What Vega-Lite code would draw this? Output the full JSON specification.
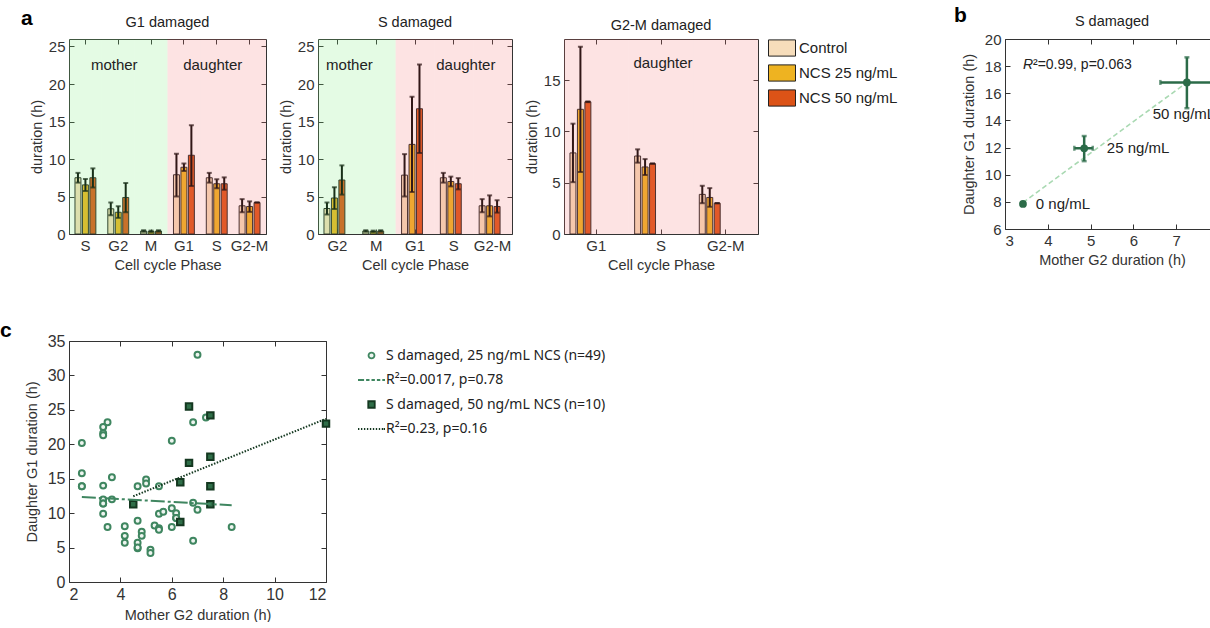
{
  "$schema": "https://vega.github.io/schema/vega-lite/v6.json",
  "background": "white",
  "padding": {"left": 0, "top": 5, "right": 0, "bottom": 0},
  "config": {
    "font": "Liberation Sans",
    "view": {"stroke": "#333", "strokeWidth": 1},
    "axis": {"labelFont": "Liberation Sans", "labelFontSize": 15, "labelColor": "#333", "titleFont": "Liberation Sans", "titleFontSize": 14.5, "titleFontWeight": "normal", "titleColor": "#333", "tickColor": "#333", "domain": false, "grid": false, "tickSize": -5, "labelPadding": 9, "titlePadding": 8},
    "title": {"font": "Liberation Sans", "fontSize": 14.5, "fontWeight": "normal", "color": "#222"}
  },
  "datasets": {
    "bars": [
      {"panel": "G1", "phase": "mS", "treatment": "Control", "mean": 7.5, "lo": 6.85, "hi": 8.15},
      {"panel": "G1", "phase": "mS", "treatment": "NCS 25 ng/mL", "mean": 6.55, "lo": 5.75, "hi": 7.35},
      {"panel": "G1", "phase": "mS", "treatment": "NCS 50 ng/mL", "mean": 7.5, "lo": 6.2, "hi": 8.75},
      {"panel": "G1", "phase": "mG2", "treatment": "Control", "mean": 3.36, "lo": 2.5, "hi": 4.2},
      {"panel": "G1", "phase": "mG2", "treatment": "NCS 25 ng/mL", "mean": 2.9, "lo": 2.15, "hi": 3.7},
      {"panel": "G1", "phase": "mG2", "treatment": "NCS 50 ng/mL", "mean": 4.87, "lo": 2.9, "hi": 6.8},
      {"panel": "G1", "phase": "mM", "treatment": "Control", "mean": 0.4, "lo": 0.3, "hi": 0.5},
      {"panel": "G1", "phase": "mM", "treatment": "NCS 25 ng/mL", "mean": 0.35, "lo": 0.25, "hi": 0.45},
      {"panel": "G1", "phase": "mM", "treatment": "NCS 50 ng/mL", "mean": 0.4, "lo": 0.3, "hi": 0.5},
      {"panel": "G1", "phase": "dG1", "treatment": "Control", "mean": 7.9, "lo": 5.0, "hi": 10.7},
      {"panel": "G1", "phase": "dG1", "treatment": "NCS 25 ng/mL", "mean": 8.9, "lo": 8.4, "hi": 9.4},
      {"panel": "G1", "phase": "dG1", "treatment": "NCS 50 ng/mL", "mean": 10.5, "lo": 6.4, "hi": 14.5},
      {"panel": "G1", "phase": "dS", "treatment": "Control", "mean": 7.5, "lo": 6.85, "hi": 8.15},
      {"panel": "G1", "phase": "dS", "treatment": "NCS 25 ng/mL", "mean": 6.7, "lo": 6.1, "hi": 7.3},
      {"panel": "G1", "phase": "dS", "treatment": "NCS 50 ng/mL", "mean": 6.7, "lo": 5.9, "hi": 7.55},
      {"panel": "G1", "phase": "dG2-M", "treatment": "Control", "mean": 3.76, "lo": 2.9, "hi": 4.65},
      {"panel": "G1", "phase": "dG2-M", "treatment": "NCS 25 ng/mL", "mean": 3.67, "lo": 2.95, "hi": 4.35},
      {"panel": "G1", "phase": "dG2-M", "treatment": "NCS 50 ng/mL", "mean": 4.2, "lo": 4.2, "hi": 4.2},
      {"panel": "S", "phase": "mG2", "treatment": "Control", "mean": 3.4, "lo": 2.6, "hi": 4.2},
      {"panel": "S", "phase": "mG2", "treatment": "NCS 25 ng/mL", "mean": 4.8, "lo": 3.35, "hi": 6.25},
      {"panel": "S", "phase": "mG2", "treatment": "NCS 50 ng/mL", "mean": 7.2, "lo": 5.25, "hi": 9.15},
      {"panel": "S", "phase": "mM", "treatment": "Control", "mean": 0.4, "lo": 0.3, "hi": 0.5},
      {"panel": "S", "phase": "mM", "treatment": "NCS 25 ng/mL", "mean": 0.35, "lo": 0.25, "hi": 0.45},
      {"panel": "S", "phase": "mM", "treatment": "NCS 50 ng/mL", "mean": 0.4, "lo": 0.3, "hi": 0.5},
      {"panel": "S", "phase": "dG1", "treatment": "Control", "mean": 7.85, "lo": 5.0, "hi": 10.65},
      {"panel": "S", "phase": "dG1", "treatment": "NCS 25 ng/mL", "mean": 11.95, "lo": 5.6, "hi": 18.3},
      {"panel": "S", "phase": "dG1", "treatment": "NCS 50 ng/mL", "mean": 16.7, "lo": 10.8, "hi": 22.6},
      {"panel": "S", "phase": "dS", "treatment": "Control", "mean": 7.5, "lo": 6.85, "hi": 8.15},
      {"panel": "S", "phase": "dS", "treatment": "NCS 25 ng/mL", "mean": 7.0, "lo": 6.35, "hi": 7.65},
      {"panel": "S", "phase": "dS", "treatment": "NCS 50 ng/mL", "mean": 6.7, "lo": 5.95, "hi": 7.45},
      {"panel": "S", "phase": "dG2-M", "treatment": "Control", "mean": 3.76, "lo": 2.9, "hi": 4.65},
      {"panel": "S", "phase": "dG2-M", "treatment": "NCS 25 ng/mL", "mean": 3.76, "lo": 2.35, "hi": 5.15},
      {"panel": "S", "phase": "dG2-M", "treatment": "NCS 50 ng/mL", "mean": 3.67, "lo": 2.85, "hi": 4.5},
      {"panel": "G2M", "phase": "dG1", "treatment": "Control", "mean": 7.9, "lo": 5.05, "hi": 10.75},
      {"panel": "G2M", "phase": "dG1", "treatment": "NCS 25 ng/mL", "mean": 12.15, "lo": 6.05, "hi": 18.25},
      {"panel": "G2M", "phase": "dG1", "treatment": "NCS 50 ng/mL", "mean": 12.88, "lo": 12.85, "hi": 12.92},
      {"panel": "G2M", "phase": "dS", "treatment": "Control", "mean": 7.6, "lo": 6.95, "hi": 8.25},
      {"panel": "G2M", "phase": "dS", "treatment": "NCS 25 ng/mL", "mean": 6.53, "lo": 5.75, "hi": 7.3},
      {"panel": "G2M", "phase": "dS", "treatment": "NCS 50 ng/mL", "mean": 6.86, "lo": 6.84, "hi": 6.88},
      {"panel": "G2M", "phase": "dG2-M", "treatment": "Control", "mean": 3.86, "lo": 3.0, "hi": 4.7},
      {"panel": "G2M", "phase": "dG2-M", "treatment": "NCS 25 ng/mL", "mean": 3.56, "lo": 2.65, "hi": 4.47},
      {"panel": "G2M", "phase": "dG2-M", "treatment": "NCS 50 ng/mL", "mean": 3.0, "lo": 2.98, "hi": 3.02}
    ],
    "bg": [
      {"panel": "G1", "phase": "mS", "region": "mother"},
      {"panel": "G1", "phase": "mG2", "region": "mother"},
      {"panel": "G1", "phase": "mM", "region": "mother"},
      {"panel": "G1", "phase": "dG1", "region": "daughter"},
      {"panel": "G1", "phase": "dS", "region": "daughter"},
      {"panel": "G1", "phase": "dG2-M", "region": "daughter"},
      {"panel": "S", "phase": "mG2", "region": "mother"},
      {"panel": "S", "phase": "mM", "region": "mother"},
      {"panel": "S", "phase": "dG1", "region": "daughter"},
      {"panel": "S", "phase": "dS", "region": "daughter"},
      {"panel": "S", "phase": "dG2-M", "region": "daughter"},
      {"panel": "G2M", "phase": "dG1", "region": "daughter"},
      {"panel": "G2M", "phase": "dS", "region": "daughter"},
      {"panel": "G2M", "phase": "dG2-M", "region": "daughter"}
    ],
    "regionLabels": [
      {"panel": "G1", "phase": "mG2", "label": "mother"},
      {"panel": "G1", "phase": "dS", "label": "daughter"},
      {"panel": "S", "phase": "mG2", "label": "mother"},
      {"panel": "S", "phase": "dS", "label": "daughter"},
      {"panel": "G2M", "phase": "dS", "label": "daughter"}
    ],
    "bfit": [{"x": 3.42, "y": 7.95}, {"x": 7.25, "y": 16.8}],
    "bpts": [
      {"dose": "0 ng/mL", "x": 3.42, "y": 7.85, "xlo": 3.42, "xhi": 3.42, "ylo": 7.85, "yhi": 7.85},
      {"dose": "25 ng/mL", "x": 4.85, "y": 11.95, "xlo": 4.62, "xhi": 5.05, "ylo": 11.0, "yhi": 12.85},
      {"dose": "50 ng/mL", "x": 7.25, "y": 16.8, "xlo": 6.63, "xhi": 7.84, "ylo": 14.9, "yhi": 18.65}
    ],
    "blabels": [
      {"label": "0 ng/mL", "x": 3.72, "y": 7.85},
      {"label": "25 ng/mL", "x": 5.38, "y": 11.95},
      {"label": "50 ng/mL", "x": 6.45, "y": 14.45}
    ],
    "bstat": [
      {"part": "R", "x": 3.42, "y": 18.1},
      {"part": "²=0.99, p=0.063", "x": 3.42, "y": 18.1}
    ],
    "cpts": [
      {"series": "S damaged, 25 ng/mL NCS (n=49)", "x": 2.5, "y": 20.2},
      {"series": "S damaged, 25 ng/mL NCS (n=49)", "x": 2.5, "y": 15.8},
      {"series": "S damaged, 25 ng/mL NCS (n=49)", "x": 2.5, "y": 13.9},
      {"series": "S damaged, 25 ng/mL NCS (n=49)", "x": 3.33, "y": 22.5},
      {"series": "S damaged, 25 ng/mL NCS (n=49)", "x": 3.33, "y": 21.6},
      {"series": "S damaged, 25 ng/mL NCS (n=49)", "x": 3.33, "y": 21.3},
      {"series": "S damaged, 25 ng/mL NCS (n=49)", "x": 3.5, "y": 23.2},
      {"series": "S damaged, 25 ng/mL NCS (n=49)", "x": 3.33, "y": 14.0},
      {"series": "S damaged, 25 ng/mL NCS (n=49)", "x": 3.33, "y": 12.0},
      {"series": "S damaged, 25 ng/mL NCS (n=49)", "x": 3.33, "y": 11.4},
      {"series": "S damaged, 25 ng/mL NCS (n=49)", "x": 3.33, "y": 11.4},
      {"series": "S damaged, 25 ng/mL NCS (n=49)", "x": 3.33, "y": 9.9},
      {"series": "S damaged, 25 ng/mL NCS (n=49)", "x": 3.5, "y": 8.0},
      {"series": "S damaged, 25 ng/mL NCS (n=49)", "x": 3.67, "y": 15.2},
      {"series": "S damaged, 25 ng/mL NCS (n=49)", "x": 3.67, "y": 12.0},
      {"series": "S damaged, 25 ng/mL NCS (n=49)", "x": 4.17, "y": 8.1},
      {"series": "S damaged, 25 ng/mL NCS (n=49)", "x": 4.17, "y": 6.7},
      {"series": "S damaged, 25 ng/mL NCS (n=49)", "x": 4.17, "y": 5.7},
      {"series": "S damaged, 25 ng/mL NCS (n=49)", "x": 4.67, "y": 13.9},
      {"series": "S damaged, 25 ng/mL NCS (n=49)", "x": 4.67, "y": 8.9},
      {"series": "S damaged, 25 ng/mL NCS (n=49)", "x": 4.67, "y": 5.7},
      {"series": "S damaged, 25 ng/mL NCS (n=49)", "x": 4.67, "y": 4.9},
      {"series": "S damaged, 25 ng/mL NCS (n=49)", "x": 4.67, "y": 5.0},
      {"series": "S damaged, 25 ng/mL NCS (n=49)", "x": 4.83, "y": 7.3},
      {"series": "S damaged, 25 ng/mL NCS (n=49)", "x": 4.83, "y": 6.7},
      {"series": "S damaged, 25 ng/mL NCS (n=49)", "x": 5.0, "y": 14.9},
      {"series": "S damaged, 25 ng/mL NCS (n=49)", "x": 5.0, "y": 14.3},
      {"series": "S damaged, 25 ng/mL NCS (n=49)", "x": 5.17, "y": 4.7},
      {"series": "S damaged, 25 ng/mL NCS (n=49)", "x": 5.17, "y": 4.2},
      {"series": "S damaged, 25 ng/mL NCS (n=49)", "x": 5.33, "y": 8.2},
      {"series": "S damaged, 25 ng/mL NCS (n=49)", "x": 5.5, "y": 9.9},
      {"series": "S damaged, 25 ng/mL NCS (n=49)", "x": 5.5, "y": 13.9},
      {"series": "S damaged, 25 ng/mL NCS (n=49)", "x": 5.5, "y": 7.8},
      {"series": "S damaged, 25 ng/mL NCS (n=49)", "x": 5.5, "y": 7.6},
      {"series": "S damaged, 25 ng/mL NCS (n=49)", "x": 5.67, "y": 10.2},
      {"series": "S damaged, 25 ng/mL NCS (n=49)", "x": 6.0, "y": 20.5},
      {"series": "S damaged, 25 ng/mL NCS (n=49)", "x": 6.0, "y": 10.7},
      {"series": "S damaged, 25 ng/mL NCS (n=49)", "x": 6.0, "y": 8.0},
      {"series": "S damaged, 25 ng/mL NCS (n=49)", "x": 6.17, "y": 10.0},
      {"series": "S damaged, 25 ng/mL NCS (n=49)", "x": 6.17, "y": 9.3},
      {"series": "S damaged, 25 ng/mL NCS (n=49)", "x": 6.17, "y": 9.3},
      {"series": "S damaged, 25 ng/mL NCS (n=49)", "x": 6.83, "y": 23.2},
      {"series": "S damaged, 25 ng/mL NCS (n=49)", "x": 6.83, "y": 11.5},
      {"series": "S damaged, 25 ng/mL NCS (n=49)", "x": 6.83, "y": 6.0},
      {"series": "S damaged, 25 ng/mL NCS (n=49)", "x": 7.0, "y": 33.0},
      {"series": "S damaged, 25 ng/mL NCS (n=49)", "x": 7.0, "y": 10.5},
      {"series": "S damaged, 25 ng/mL NCS (n=49)", "x": 7.33, "y": 23.9},
      {"series": "S damaged, 25 ng/mL NCS (n=49)", "x": 8.33, "y": 8.0},
      {"series": "S damaged, 25 ng/mL NCS (n=49)", "x": 2.5, "y": 13.9},
      {"series": "S damaged, 50 ng/mL NCS (n=10)", "x": 4.5, "y": 11.3},
      {"series": "S damaged, 50 ng/mL NCS (n=10)", "x": 6.33, "y": 8.7},
      {"series": "S damaged, 50 ng/mL NCS (n=10)", "x": 6.33, "y": 14.5},
      {"series": "S damaged, 50 ng/mL NCS (n=10)", "x": 6.67, "y": 25.5},
      {"series": "S damaged, 50 ng/mL NCS (n=10)", "x": 6.67, "y": 17.3},
      {"series": "S damaged, 50 ng/mL NCS (n=10)", "x": 7.5, "y": 24.2},
      {"series": "S damaged, 50 ng/mL NCS (n=10)", "x": 7.5, "y": 18.2},
      {"series": "S damaged, 50 ng/mL NCS (n=10)", "x": 7.5, "y": 13.9},
      {"series": "S damaged, 50 ng/mL NCS (n=10)", "x": 7.5, "y": 11.3},
      {"series": "S damaged, 50 ng/mL NCS (n=10)", "x": 12.0, "y": 23.0}
    ],
    "cfit": [
      {"series": "R²=0.0017, p=0.78", "x": 2.5, "y": 12.35},
      {"series": "R²=0.0017, p=0.78", "x": 8.33, "y": 11.15},
      {"series": "R²=0.23, p=0.16", "x": 4.5, "y": 12.45},
      {"series": "R²=0.23, p=0.16", "x": 12.0, "y": 23.7}
    ]
  },
  "concat": [
    {
      "hconcat": [
        {
          "title": {"text": "a", "anchor": "start", "frame": "group", "fontSize": 21, "fontWeight": "bold", "dx": -48, "offset": -14, "color": "#000"},
          "hconcat": [
            {
              "width": 197, "height": 195,
              "title": {"text": "G1 damaged", "offset": 8},
              "layer": [
                {
                  "data": {"name": "bars"},
                  "transform": [{"filter": "datum.panel === 'G1'"}],
                  "mark": {"type": "bar", "stroke": "#222", "strokeWidth": 1},
                  "encoding": {
                    "x": {"field": "phase", "type": "nominal", "scale": {"domain": ["mS", "mG2", "mM", "dG1", "dS", "dG2-M"], "paddingInner": 0, "paddingOuter": 0}, "axis": {"orient": "bottom", "labelExpr": "slice(datum.value, 1)", "labelAngle": 0, "title": "Cell cycle Phase", "titlePadding": 5}},
                    "xOffset": {"field": "treatment", "type": "nominal", "scale": {"domain": ["Control", "NCS 25 ng/mL", "NCS 50 ng/mL"], "paddingInner": 0.2, "paddingOuter": 0.8}},
                    "y": {"field": "mean", "type": "quantitative", "scale": {"domain": [0, 26], "nice": false}, "axis": {"orient": "left", "values": [0, 5, 10, 15, 20, 25], "title": "duration (h)", "titlePadding": 4}},
                    "color": {"field": "treatment", "type": "nominal", "scale": {"domain": ["Control", "NCS 25 ng/mL", "NCS 50 ng/mL"], "range": ["#F6DDBB", "#EEB321", "#DC5317"]}, "legend": null}
                  }
                },
                {
                  "data": {"name": "bars"},
                  "transform": [{"filter": "datum.panel === 'G1'"}],
                  "mark": {"type": "rule", "color": "#000", "strokeWidth": 2},
                  "encoding": {
                    "x": {"field": "phase", "type": "nominal", "axis": {"orient": "top", "labels": false, "title": null}},
                    "xOffset": {"field": "treatment", "type": "nominal"},
                    "y": {"field": "lo", "type": "quantitative", "axis": {"orient": "right", "labels": false, "title": null, "values": [0, 5, 10, 15, 20, 25]}},
                    "y2": {"field": "hi"}
                  }
                },
                {
                  "data": {"name": "bars"},
                  "transform": [{"filter": "datum.panel === 'G1'"}],
                  "mark": {"type": "tick", "color": "#000", "thickness": 2, "size": 5},
                  "encoding": {
                    "x": {"field": "phase", "type": "nominal", "axis": null},
                    "xOffset": {"field": "treatment", "type": "nominal"},
                    "y": {"field": "lo", "type": "quantitative", "axis": null}
                  }
                },
                {
                  "data": {"name": "bars"},
                  "transform": [{"filter": "datum.panel === 'G1'"}],
                  "mark": {"type": "tick", "color": "#000", "thickness": 2, "size": 5},
                  "encoding": {
                    "x": {"field": "phase", "type": "nominal", "axis": null},
                    "xOffset": {"field": "treatment", "type": "nominal"},
                    "y": {"field": "hi", "type": "quantitative", "axis": null}
                  }
                },
                {
                  "data": {"name": "bg"},
                  "transform": [{"filter": "datum.panel === 'G1'"}],
                  "mark": {"type": "rect", "fillOpacity": 0.2, "strokeWidth": 0},
                  "encoding": {
                    "x": {"field": "phase", "type": "nominal", "axis": null},
                    "y": {"datum": 0, "type": "quantitative", "axis": null},
                    "y2": {"datum": 26},
                    "fill": {"condition": {"test": "datum.region === 'mother'", "value": "#78EB78"}, "value": "#F57373"}
                  }
                },
                {
                  "data": {"name": "regionLabels"},
                  "transform": [{"filter": "datum.panel === 'G1'"}],
                  "mark": {"type": "text", "fontSize": 15, "color": "#222", "dx": -4},
                  "encoding": {
                    "x": {"field": "phase", "type": "nominal", "axis": null},
                    "y": {"datum": 22.6, "type": "quantitative", "axis": null},
                    "text": {"field": "label"}
                  }
                }
              ],
              "resolve": {"axis": {"x": "independent", "y": "independent"}}
            },
            {
              "width": 194, "height": 195,
              "title": {"text": "S damaged", "offset": 8},
              "layer": [
                {
                  "data": {"name": "bars"},
                  "transform": [{"filter": "datum.panel === 'S'"}],
                  "mark": {"type": "bar", "stroke": "#222", "strokeWidth": 1},
                  "encoding": {
                    "x": {"field": "phase", "type": "nominal", "scale": {"domain": ["mG2", "mM", "dG1", "dS", "dG2-M"], "paddingInner": 0, "paddingOuter": 0}, "axis": {"orient": "bottom", "labelExpr": "slice(datum.value, 1)", "labelAngle": 0, "title": "Cell cycle Phase", "titlePadding": 5}},
                    "xOffset": {"field": "treatment", "type": "nominal", "scale": {"domain": ["Control", "NCS 25 ng/mL", "NCS 50 ng/mL"], "paddingInner": 0.2, "paddingOuter": 0.8}},
                    "y": {"field": "mean", "type": "quantitative", "scale": {"domain": [0, 26], "nice": false}, "axis": {"orient": "left", "values": [0, 5, 10, 15, 20, 25], "title": "duration (h)", "titlePadding": 4}},
                    "color": {"field": "treatment", "type": "nominal", "scale": {"domain": ["Control", "NCS 25 ng/mL", "NCS 50 ng/mL"], "range": ["#F6DDBB", "#EEB321", "#DC5317"]}, "legend": null}
                  }
                },
                {
                  "data": {"name": "bars"},
                  "transform": [{"filter": "datum.panel === 'S'"}],
                  "mark": {"type": "rule", "color": "#000", "strokeWidth": 2},
                  "encoding": {
                    "x": {"field": "phase", "type": "nominal", "axis": {"orient": "top", "labels": false, "title": null}},
                    "xOffset": {"field": "treatment", "type": "nominal"},
                    "y": {"field": "lo", "type": "quantitative", "axis": {"orient": "right", "labels": false, "title": null, "values": [0, 5, 10, 15, 20, 25]}},
                    "y2": {"field": "hi"}
                  }
                },
                {
                  "data": {"name": "bars"},
                  "transform": [{"filter": "datum.panel === 'S'"}],
                  "mark": {"type": "tick", "color": "#000", "thickness": 2, "size": 5},
                  "encoding": {
                    "x": {"field": "phase", "type": "nominal", "axis": null},
                    "xOffset": {"field": "treatment", "type": "nominal"},
                    "y": {"field": "lo", "type": "quantitative", "axis": null}
                  }
                },
                {
                  "data": {"name": "bars"},
                  "transform": [{"filter": "datum.panel === 'S'"}],
                  "mark": {"type": "tick", "color": "#000", "thickness": 2, "size": 5},
                  "encoding": {
                    "x": {"field": "phase", "type": "nominal", "axis": null},
                    "xOffset": {"field": "treatment", "type": "nominal"},
                    "y": {"field": "hi", "type": "quantitative", "axis": null}
                  }
                },
                {
                  "data": {"name": "bg"},
                  "transform": [{"filter": "datum.panel === 'S'"}],
                  "mark": {"type": "rect", "fillOpacity": 0.2, "strokeWidth": 0},
                  "encoding": {
                    "x": {"field": "phase", "type": "nominal", "axis": null},
                    "y": {"datum": 0, "type": "quantitative", "axis": null},
                    "y2": {"datum": 26},
                    "fill": {"condition": {"test": "datum.region === 'mother'", "value": "#78EB78"}, "value": "#F57373"}
                  }
                },
                {
                  "data": {"name": "regionLabels"},
                  "transform": [{"filter": "datum.panel === 'S'"}],
                  "mark": {"type": "text", "fontSize": 15, "color": "#222", "dx": 12},
                  "encoding": {
                    "x": {"field": "phase", "type": "nominal", "axis": null},
                    "y": {"datum": 22.6, "type": "quantitative", "axis": null},
                    "text": {"field": "label"}
                  }
                }
              ],
              "resolve": {"axis": {"x": "independent", "y": "independent"}}
            },
            {
              "width": 194, "height": 195,
              "title": {"text": "G2-M damaged", "offset": 1},
              "layer": [
                {
                  "data": {"name": "bars"},
                  "transform": [{"filter": "datum.panel === 'G2M'"}],
                  "mark": {"type": "bar", "stroke": "#222", "strokeWidth": 1},
                  "encoding": {
                    "x": {"field": "phase", "type": "nominal", "scale": {"domain": ["dG1", "dS", "dG2-M"], "paddingInner": 0, "paddingOuter": 0}, "axis": {"orient": "bottom", "labelExpr": "slice(datum.value, 1)", "labelAngle": 0, "title": "Cell cycle Phase", "titlePadding": 5}},
                    "xOffset": {"field": "treatment", "type": "nominal", "scale": {"domain": ["Control", "NCS 25 ng/mL", "NCS 50 ng/mL"], "paddingInner": 0.2, "paddingOuter": 0.8}},
                    "y": {"field": "mean", "type": "quantitative", "scale": {"domain": [0, 19], "nice": false}, "axis": {"orient": "left", "values": [0, 5, 10, 15], "title": "duration (h)", "titlePadding": 4}},
                    "color": {"field": "treatment", "type": "nominal", "scale": {"domain": ["Control", "NCS 25 ng/mL", "NCS 50 ng/mL"], "range": ["#F6DDBB", "#EEB321", "#DC5317"]},
                      "legend": {"orient": "none", "legendX": 204, "legendY": -5, "padding": 0, "title": null, "symbolType": "M-1,-0.6H1V0.6H-1Z", "symbolSize": 729, "symbolStrokeColor": "#222", "symbolStrokeWidth": 1, "labelFont": "Liberation Sans", "labelFontSize": 15, "labelColor": "#222", "labelOffset": 3, "rowPadding": 0}}
                  }
                },
                {
                  "data": {"name": "bars"},
                  "transform": [{"filter": "datum.panel === 'G2M'"}],
                  "mark": {"type": "rule", "color": "#000", "strokeWidth": 2},
                  "encoding": {
                    "x": {"field": "phase", "type": "nominal", "axis": {"orient": "top", "labels": false, "title": null}},
                    "xOffset": {"field": "treatment", "type": "nominal"},
                    "y": {"field": "lo", "type": "quantitative", "axis": {"orient": "right", "labels": false, "title": null, "values": [0, 5, 10, 15]}},
                    "y2": {"field": "hi"}
                  }
                },
                {
                  "data": {"name": "bars"},
                  "transform": [{"filter": "datum.panel === 'G2M'"}],
                  "mark": {"type": "tick", "color": "#000", "thickness": 2, "size": 5},
                  "encoding": {
                    "x": {"field": "phase", "type": "nominal", "axis": null},
                    "xOffset": {"field": "treatment", "type": "nominal"},
                    "y": {"field": "lo", "type": "quantitative", "axis": null}
                  }
                },
                {
                  "data": {"name": "bars"},
                  "transform": [{"filter": "datum.panel === 'G2M'"}],
                  "mark": {"type": "tick", "color": "#000", "thickness": 2, "size": 5},
                  "encoding": {
                    "x": {"field": "phase", "type": "nominal", "axis": null},
                    "xOffset": {"field": "treatment", "type": "nominal"},
                    "y": {"field": "hi", "type": "quantitative", "axis": null}
                  }
                },
                {
                  "data": {"name": "bg"},
                  "transform": [{"filter": "datum.panel === 'G2M'"}],
                  "mark": {"type": "rect", "fillOpacity": 0.2, "strokeWidth": 0},
                  "encoding": {
                    "x": {"field": "phase", "type": "nominal", "axis": null},
                    "y": {"datum": 0, "type": "quantitative", "axis": null},
                    "y2": {"datum": 19},
                    "fill": {"condition": {"test": "datum.region === 'mother'", "value": "#78EB78"}, "value": "#F57373"}
                  }
                },
                {
                  "data": {"name": "regionLabels"},
                  "transform": [{"filter": "datum.panel === 'G2M'"}],
                  "mark": {"type": "text", "fontSize": 15, "color": "#222", "dx": 2},
                  "encoding": {
                    "x": {"field": "phase", "type": "nominal", "axis": null},
                    "y": {"datum": 16.7, "type": "quantitative", "axis": null},
                    "text": {"field": "label"}
                  }
                }
              ],
              "resolve": {"axis": {"x": "independent", "y": "independent"}}
            }
          ],
          "spacing": 52,
          "bounds": "flush",
          "resolve": {"scale": {"color": "independent", "fill": "independent"}, "legend": {"color": "independent", "fill": "independent"}}
        },
        {
          "title": {"text": "b", "anchor": "start", "frame": "group", "fontSize": 21, "fontWeight": "bold", "dx": -51, "offset": -13, "color": "#000"},
          "hconcat": [
            {
              "width": 214, "height": 190,
              "title": {"text": "S damaged", "offset": 3},
              "layer": [
                {
                  "data": {"name": "bfit"},
                  "mark": {"type": "line", "color": "#A9D9B2", "strokeDash": [5, 3], "strokeWidth": 1.6},
                  "encoding": {
                    "x": {"field": "x", "type": "quantitative", "scale": {"domain": [3, 8], "nice": false}, "axis": {"orient": "bottom", "values": [3, 4, 5, 6, 7, 8], "title": "Mother G2 duration (h)", "titlePadding": 5}},
                    "y": {"field": "y", "type": "quantitative", "scale": {"domain": [6, 20], "nice": false}, "axis": {"orient": "left", "values": [6, 8, 10, 12, 14, 16, 18, 20], "title": "Daughter G1 duration (h)"}}
                  }
                },
                {
                  "data": {"name": "bpts"},
                  "mark": {"type": "errorbar", "ticks": true, "thickness": 2.5, "color": "#2B6B48"},
                  "encoding": {
                    "x": {"field": "xlo", "type": "quantitative", "axis": null},
                    "x2": {"field": "xhi"},
                    "y": {"field": "y", "type": "quantitative", "axis": null}
                  }
                },
                {
                  "data": {"name": "bpts"},
                  "mark": {"type": "errorbar", "ticks": true, "thickness": 2.5, "color": "#2B6B48"},
                  "encoding": {
                    "y": {"field": "ylo", "type": "quantitative", "axis": null},
                    "y2": {"field": "yhi"},
                    "x": {"field": "x", "type": "quantitative", "axis": null}
                  }
                },
                {
                  "data": {"name": "bpts"},
                  "mark": {"type": "point", "filled": true, "size": 60, "opacity": 1, "color": "#2B6B48"},
                  "encoding": {
                    "x": {"field": "x", "type": "quantitative", "axis": {"orient": "top", "labels": false, "title": null, "values": [3, 4, 5, 6, 7, 8]}},
                    "y": {"field": "y", "type": "quantitative", "axis": {"orient": "right", "labels": false, "title": null, "values": [6, 8, 10, 12, 14, 16, 18, 20]}}
                  }
                },
                {
                  "data": {"name": "blabels"},
                  "mark": {"type": "text", "align": "left", "baseline": "middle", "fontSize": 15, "color": "#222"},
                  "encoding": {
                    "x": {"field": "x", "type": "quantitative", "axis": null},
                    "y": {"field": "y", "type": "quantitative", "axis": null},
                    "text": {"field": "label"}
                  }
                },
                {
                  "data": {"name": "bstat"},
                  "transform": [{"filter": "datum.part === 'R'"}],
                  "mark": {"type": "text", "align": "left", "baseline": "middle", "fontSize": 14, "fontStyle": "italic", "color": "#222"},
                  "encoding": {
                    "x": {"field": "x", "type": "quantitative", "axis": null},
                    "y": {"field": "y", "type": "quantitative", "axis": null},
                    "text": {"field": "part"}
                  }
                },
                {
                  "data": {"name": "bstat"},
                  "transform": [{"filter": "datum.part !== 'R'"}],
                  "mark": {"type": "text", "align": "left", "baseline": "middle", "fontSize": 14, "color": "#222", "dx": 10},
                  "encoding": {
                    "x": {"field": "x", "type": "quantitative", "axis": null},
                    "y": {"field": "y", "type": "quantitative", "axis": null},
                    "text": {"field": "part"}
                  }
                }
              ],
              "resolve": {"axis": {"x": "independent", "y": "independent"}}
            }
          ],
          "bounds": "flush"
        }
      ],
      "spacing": 55,
      "bounds": "full",
      "resolve": {"scale": {"color": "independent", "fill": "independent"}, "legend": {"color": "independent", "fill": "independent"}}
    },
    {
      "hconcat": [
        {
          "title": {"text": "c", "anchor": "start", "frame": "group", "fontSize": 21, "fontWeight": "bold", "dx": -69, "offset": -8, "color": "#000"},
          "hconcat": [
            {
              "width": 257, "height": 241,
              "layer": [
                {
                  "data": {"name": "cpts"},
                  "mark": {"type": "point", "filled": true, "size": 729, "strokeWidth": 2, "opacity": 1},
                  "encoding": {
                    "x": {"field": "x", "type": "quantitative", "scale": {"domain": [2, 12], "nice": false}, "axis": {"orient": "bottom", "values": [2, 4, 6, 8, 10, 12], "title": "Mother G2 duration (h)", "labelFontSize": 16, "titlePadding": 6}},
                    "y": {"field": "y", "type": "quantitative", "scale": {"domain": [0, 35], "nice": false}, "axis": {"orient": "left", "values": [0, 5, 10, 15, 20, 25, 30, 35], "title": "Daughter G1 duration (h)", "labelFontSize": 16, "titlePadding": 8}},
                    "shape": {"field": "series", "type": "nominal",
                      "scale": {"domain": ["S damaged, 25 ng/mL NCS (n=49)", "R²=0.0017, p=0.78", "S damaged, 50 ng/mL NCS (n=10)", "R²=0.23, p=0.16"],
                        "range": ["M0.22,0A0.22,0.22,0,1,1,-0.22,0A0.22,0.22,0,1,1,0.22,0Z", "M-1,0H-0.55M-0.4,0H-0.15M0,0H0.25M0.4,0H0.65M0.8,0H1", "M-0.24,-0.24H0.24V0.24H-0.24Z", "M-1,0H-0.9M-0.78,0H-0.68M-0.56,0H-0.46M-0.34,0H-0.24M-0.12,0H-0.02M0.1,0H0.2M0.32,0H0.42M0.54,0H0.64M0.76,0H0.86M0.9,0H1"]},
                      "legend": {"orient": "right", "offset": 23, "padding": 0, "title": null, "symbolSize": 729, "symbolStrokeWidth": 1.8, "labelFont": "Noto Sans", "labelFontSize": 14, "labelColor": "#222", "labelOffset": 0, "rowPadding": 2.5, "labelLimit": 400}},
                    "fill": {"field": "series", "type": "nominal",
                      "scale": {"domain": ["S damaged, 25 ng/mL NCS (n=49)", "R²=0.0017, p=0.78", "S damaged, 50 ng/mL NCS (n=10)", "R²=0.23, p=0.16"], "range": ["#EEF5F0", "transparent", "#2F6E48", "transparent"]},
                      "legend": {"orient": "right", "offset": 23, "padding": 0, "title": null, "symbolSize": 729, "symbolStrokeWidth": 1.8, "labelFont": "Noto Sans", "labelFontSize": 14, "labelColor": "#222", "labelOffset": 0, "rowPadding": 2.5, "labelLimit": 400}},
                    "stroke": {"field": "series", "type": "nominal",
                      "scale": {"domain": ["S damaged, 25 ng/mL NCS (n=49)", "R²=0.0017, p=0.78", "S damaged, 50 ng/mL NCS (n=10)", "R²=0.23, p=0.16"], "range": ["#3F8660", "#3F8660", "#143820", "#143820"]},
                      "legend": {"orient": "right", "offset": 23, "padding": 0, "title": null, "symbolSize": 729, "symbolStrokeWidth": 1.8, "labelFont": "Noto Sans", "labelFontSize": 14, "labelColor": "#222", "labelOffset": 0, "rowPadding": 2.5, "labelLimit": 400}}
                  }
                },
                {
                  "data": {"name": "cfit"},
                  "mark": {"type": "line", "strokeWidth": 2},
                  "encoding": {
                    "x": {"field": "x", "type": "quantitative", "axis": {"orient": "top", "labels": false, "title": null, "values": [2, 4, 6, 8, 10, 12]}},
                    "y": {"field": "y", "type": "quantitative", "axis": {"orient": "right", "labels": false, "title": null, "values": [0, 5, 10, 15, 20, 25, 30, 35]}},
                    "stroke": {"field": "series", "type": "nominal"},
                    "strokeDash": {"field": "series", "type": "nominal", "scale": {"domain": ["R²=0.0017, p=0.78", "R²=0.23, p=0.16"], "range": [[14, 3, 3, 3], [1.5, 1.5]]}, "legend": null}
                  }
                }
              ],
              "resolve": {"axis": {"x": "independent", "y": "independent"}}
            }
          ],
          "bounds": "flush"
        }
      ],
      "bounds": "full"
    }
  ],
  "columns": 1,
  "align": "none",
  "spacing": 47,
  "bounds": "full",
  "resolve": {"scale": {"color": "independent", "fill": "independent", "stroke": "independent", "shape": "independent", "strokeDash": "independent"}, "legend": {"color": "independent", "fill": "independent", "stroke": "independent", "shape": "independent", "strokeDash": "independent"}}
}
